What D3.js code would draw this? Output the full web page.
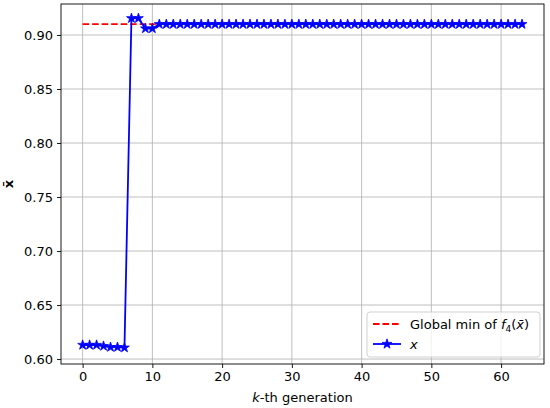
<!DOCTYPE html>
<html>
<head>
<meta charset="utf-8">
<script src="https://cdn.jsdelivr.net/npm/d3@7"></script>
<style>
  body { margin: 0; background: #fff; }
  svg { font-family: "DejaVu Sans", sans-serif; }
  .grid line { stroke: #b0b0b0; stroke-width: 0.8; }
</style>
</head>
<body>
<div id="chart"></div>
<script>
// values
const generations = d3.range(0, 64)
const xValues = [
  0.613, 0.613, 0.613, 0.612, 0.611, 0.611, 0.6105,
  0.9155, 0.9155, 0.906, 0.906,
  0.910, 0.910, 0.910, 0.910, 0.910, 0.910, 0.910, 0.910, 0.910,
  0.910, 0.910, 0.910, 0.910, 0.910, 0.910, 0.910, 0.910, 0.910, 0.910,
  0.910, 0.910, 0.910, 0.910, 0.910, 0.910, 0.910, 0.910, 0.910, 0.910,
  0.910, 0.910, 0.910, 0.910, 0.910, 0.910, 0.910, 0.910, 0.910, 0.910,
  0.910, 0.910, 0.910, 0.910, 0.910, 0.910, 0.910, 0.910, 0.910, 0.910,
  0.910, 0.910, 0.910, 0.910
]
const globalMin = 0.910
const xTicks = [0, 10, 20, 30, 40, 50, 60]
const yTicks = [0.60, 0.65, 0.70, 0.75, 0.80, 0.85, 0.90]

var fullWidth = 550;
var fullHeight = 408;
var margin = {top: 4, right: 6, bottom: 44, left: 61};
var width = fullWidth - margin.left - margin.right;
var height = fullHeight - margin.top - margin.bottom;
var fs = 13;

var x = d3.scaleLinear().domain([-3.1, 66.15]).range([0, width]);
var y = d3.scaleLinear().domain([0.5954, 0.9287]).range([height, 0]);

var svg = d3.select("#chart")
  .append("svg")
    .attr("width", fullWidth)
    .attr("height", fullHeight)
  .append("g")
    .attr("transform", "translate(" + margin.left + "," + margin.top + ")");

// grid
svg.append("g").attr("class", "grid")
  .selectAll("line.gx").data(xTicks).enter().append("line")
    .attr("x1", d => x(d)).attr("x2", d => x(d))
    .attr("y1", 0).attr("y2", height);
svg.append("g").attr("class", "grid")
  .selectAll("line.gy").data(yTicks).enter().append("line")
    .attr("x1", 0).attr("x2", width)
    .attr("y1", d => y(d)).attr("y2", d => y(d));

// axes
var xAxis = svg.append("g")
  .attr("transform", "translate(0," + height + ")")
  .call(d3.axisBottom(x).tickValues(xTicks).tickSize(4).tickPadding(4).tickFormat(d3.format("d")));
var yAxis = svg.append("g")
  .call(d3.axisLeft(y).tickValues(yTicks).tickSize(4).tickPadding(4).tickFormat(d3.format(".2f")));
[xAxis, yAxis].forEach(function(a) {
  a.select(".domain").remove();
  a.selectAll(".tick line").attr("stroke", "#000").attr("stroke-width", 0.9);
  a.selectAll(".tick text").attr("font-size", fs).attr("fill", "#000")
    .attr("font-family", "DejaVu Sans");
});

// red dashed global min line
var line = d3.line().x(d => x(d[0])).y(d => y(d[1]));
svg.append("path")
  .datum(generations.map(g => [g, globalMin]))
  .attr("d", line)
  .attr("fill", "none")
  .attr("stroke", "red")
  .attr("stroke-width", 1.8)
  .attr("stroke-dasharray", "6.6,2.9");

// blue series
svg.append("path")
  .datum(generations.map((g, i) => [g, xValues[i]]))
  .attr("d", line)
  .attr("fill", "none")
  .attr("stroke", "blue")
  .attr("stroke-width", 1.8);

var star = d3.symbol().type(d3.symbolStar).size(30);
svg.selectAll(".pt").data(generations).enter().append("path")
  .attr("class", "pt")
  .attr("d", star)
  .attr("transform", (d, i) => "translate(" + x(d) + "," + y(xValues[i]) + ")")
  .attr("fill", "blue")
  .attr("stroke", "blue")
  .attr("stroke-width", 0.8);

// frame
svg.append("rect")
  .attr("width", width).attr("height", height)
  .attr("fill", "none").attr("stroke", "#000").attr("stroke-width", 0.9);

// axis labels
var xl = svg.append("text")
  .attr("x", width / 2).attr("y", height + 38)
  .attr("text-anchor", "middle").attr("font-size", fs);
xl.append("tspan").attr("font-style", "italic").text("k");
xl.append("tspan").text("-th generation");

svg.append("text")
  .attr("transform", "translate(" + (-48) + "," + (height / 2) + ") rotate(-90)")
  .attr("text-anchor", "middle")
  .attr("font-size", fs).attr("font-weight", "bold")
  .text("x\u0304");

// legend
var lg = svg.append("g").attr("transform", "translate(" + (width - 177) + "," + (height - 52) + ")");
lg.append("rect")
  .attr("width", 173).attr("height", 45).attr("rx", 3)
  .attr("fill", "#fff").attr("fill-opacity", 0.8)
  .attr("stroke", "#ccc").attr("stroke-width", 0.9);
lg.append("line")
  .attr("x1", 6).attr("x2", 34).attr("y1", 12).attr("y2", 12)
  .attr("stroke", "red").attr("stroke-width", 1.8).attr("stroke-dasharray", "6.6,2.9");
lg.append("line")
  .attr("x1", 6).attr("x2", 34).attr("y1", 32).attr("y2", 32)
  .attr("stroke", "blue").attr("stroke-width", 1.8);
lg.append("path").attr("d", star)
  .attr("transform", "translate(20,32)")
  .attr("fill", "blue").attr("stroke", "blue").attr("stroke-width", 0.8);
var t1 = lg.append("text").attr("x", 43).attr("y", 16.5).attr("font-size", fs);
t1.append("tspan").text("Global min of ");
t1.append("tspan").attr("font-style", "italic").text("f");
t1.append("tspan").attr("font-size", 9).attr("dy", 3).text("4");
t1.append("tspan").attr("dy", -3).text("(");
t1.append("tspan").attr("font-style", "italic").text("x\u0304");
t1.append("tspan").text(")");
lg.append("text").attr("x", 43).attr("y", 36.5).attr("font-size", fs)
  .attr("font-style", "italic").text("x");
</script>
</body>
</html>
